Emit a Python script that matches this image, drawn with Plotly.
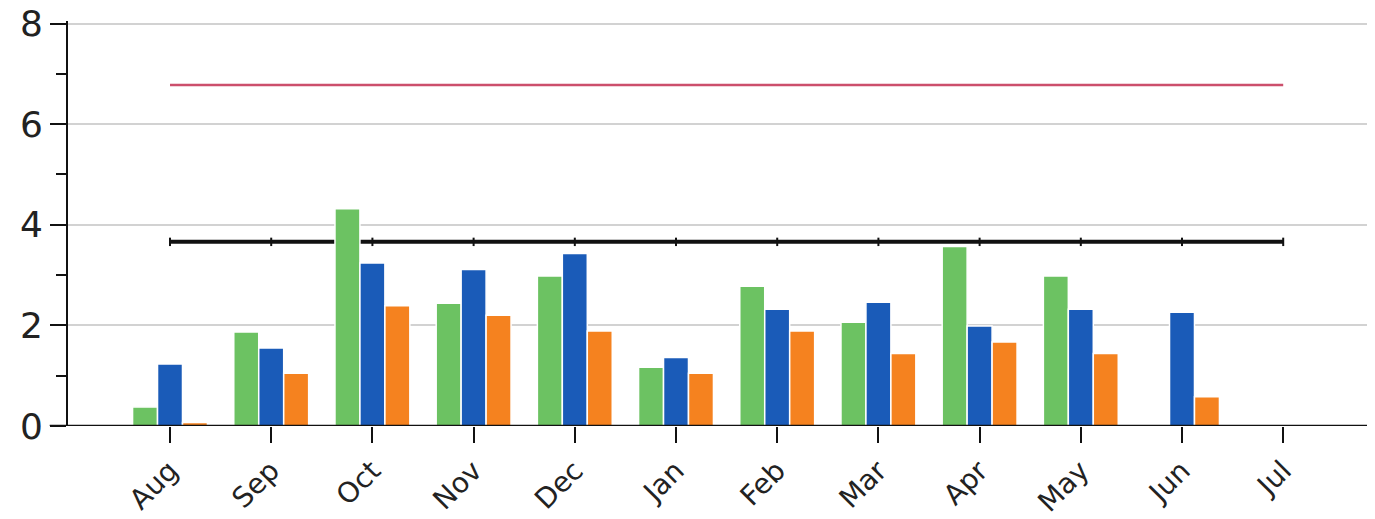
import plotly.graph_objects as go


##############################################################
# Data
##############################################################

months = ["Aug", "Sep", "Oct", "Nov", "Dec", "Jan",
          "Feb", "Mar", "Apr", "May", "Jun", "Jul"]

green_vals = [0.38, 1.87, 4.32, 2.44, 2.98, 1.17,
              2.78, 2.06, 3.57, 2.98, None, None]

blue_vals = [1.23, 1.55, 3.24, 3.11, 3.43, 1.36,
             2.32, 2.46, 1.99, 2.32, 2.26, None]

orange_vals = [0.07, 1.05, 2.39, 2.20, 1.89, 1.05,
               1.89, 1.44, 1.67, 1.44, 0.58, None]

red_line = [6.78, 6.78, 6.78, 6.78, 6.78, 6.78,
            6.78, 6.78, 6.78, 6.78, 6.78, 6.78]

black_line = [3.66, 3.66, 3.66, 3.66, 3.66, 3.66,
              3.66, 3.66, 3.66, 3.66, 3.66, 3.66]

y_ticks = [0, 2, 4, 6, 8]


##############################################################
# Figure
##############################################################

fig = go.Figure()

# reference lines on the base axes (drawn underneath the bars)
fig.add_trace(go.Scatter(
    x=months, y=red_line,
    mode="lines",
    line=dict(color="#cc4f6c", width=2.5),
    xaxis="x", yaxis="y",
    hoverinfo="skip"
))

fig.add_trace(go.Scatter(
    x=months, y=black_line,
    mode="lines+markers",
    line=dict(color="#111111", width=4),
    marker=dict(symbol="line-ns", size=6,
                line=dict(color="#111111", width=2)),
    xaxis="x", yaxis="y",
    hoverinfo="skip"
))

# bars on overlaying axes so they sit above the lines
bar_line = dict(color="white", width=1.5)

fig.add_trace(go.Bar(x=months, y=green_vals,
                     marker=dict(color="#6cc262", line=bar_line),
                     xaxis="x2", yaxis="y2"))
fig.add_trace(go.Bar(x=months, y=blue_vals,
                     marker=dict(color="#1a5bb8", line=bar_line),
                     xaxis="x2", yaxis="y2"))
fig.add_trace(go.Bar(x=months, y=orange_vals,
                     marker=dict(color="#f5821f", line=bar_line),
                     xaxis="x2", yaxis="y2"))

x_range = [-1.008, 11.907]
y_range = [0, 8.05]

# page body has an 8px margin, so the figure is 8px smaller
fig.update_layout(
    width=1367, height=511,
    margin=dict(l=60, r=0, t=13, b=93),
    paper_bgcolor="white",
    plot_bgcolor="white",
    showlegend=False,
    barmode="group",
    bargap=0.26,
    bargroupgap=0,
    font=dict(family="DejaVu Sans", color="#222222"),
    xaxis=dict(
        type="category",
        categoryorder="array",
        categoryarray=months,
        range=x_range,
        automargin=False,
        showgrid=False,
        zeroline=False,
        showline=False,
        ticks="outside",
        ticklen=16,
        tickwidth=2,
        tickcolor="#111111",
        tickangle=-45,
        tickfont=dict(size=28, color="#222222"),
        ticklabeloverflow="allow",
    ),
    yaxis=dict(
        range=y_range,
        tickvals=y_ticks,
        automargin=False,
        showgrid=True,
        gridcolor="#d2d2d2",
        gridwidth=2,
        zeroline=False,
        showline=True,
        linecolor="#111111",
        linewidth=2,
        ticks="outside",
        ticklen=16,
        tickwidth=2,
        tickcolor="#111111",
        tickfont=dict(size=36, color="#222222"),
        ticklabeloverflow="allow",
        minor=dict(dtick=1, ticks="outside", ticklen=10,
                   tickwidth=2, tickcolor="#111111", showgrid=False),
    ),
    xaxis2=dict(
        type="category",
        categoryorder="array",
        categoryarray=months,
        overlaying="x",
        range=x_range,
        visible=False,
    ),
    yaxis2=dict(
        overlaying="y",
        range=y_range,
        visible=False,
    ),
)

# baseline that runs a little past the y axis, as in the source
fig.add_shape(
    type="line",
    xref="paper", yref="y",
    x0=-0.014, x1=1, y0=0, y1=0,
    line=dict(color="#111111", width=2.5),
)

fig.write_html("out.html")
